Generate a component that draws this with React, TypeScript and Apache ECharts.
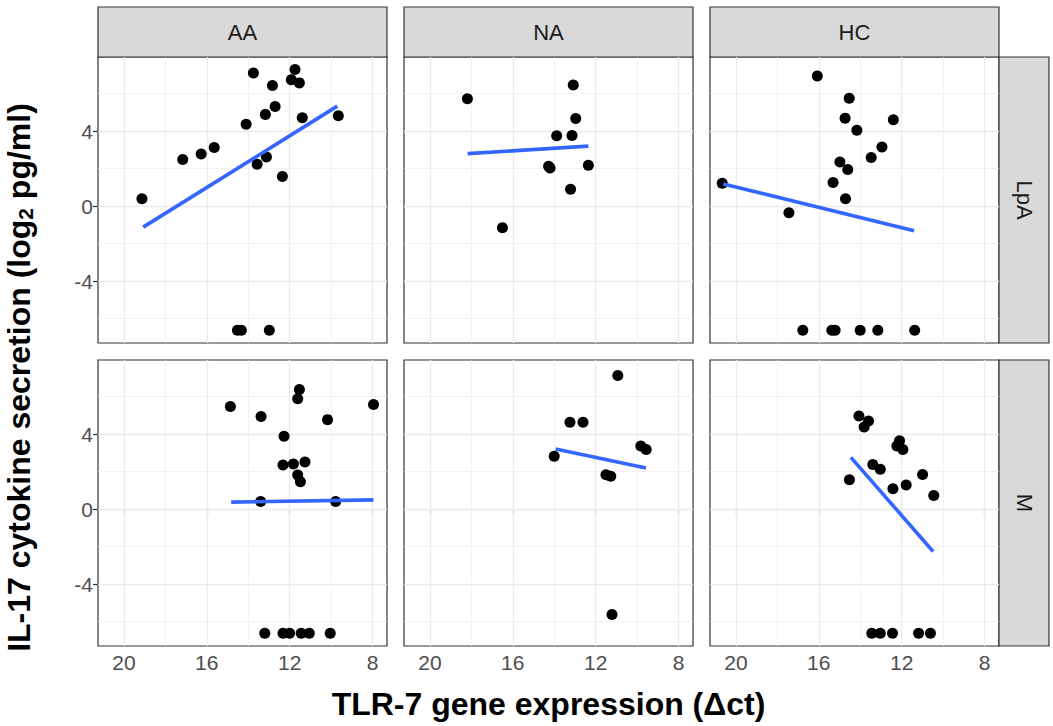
import React, { useEffect, useRef } from "react";
import * as echarts from "echarts";

// ---- facets ----
const columns = ["AA", "NA", "HC"];
const rows = ["LpA", "M"];

// ---- axis ticks ----
const xTicks = [20, 16, 12, 8];
const xMinor = [18, 14, 10];
const yTicks = [-4, 0, 4];
const yMinor = [-6, -2, 2, 6];
const xRange = [7.3, 21.25];
const yRange = [-7.3, 7.95];

// ---- data: TLR-7 (Δct) vs IL-17 (log2 pg/ml) ----
const AA_LpA_x = [13.75, 11.74, 11.92, 11.53, 12.83, 12.7, 13.17, 11.39, 9.65, 14.1, 15.64, 16.27, 17.16, 13.57, 13.12, 12.35, 19.13, 14.52, 14.33, 12.98];
const AA_LpA_y = [7.1, 7.28, 6.74, 6.57, 6.43, 5.31, 4.89, 4.71, 4.82, 4.37, 3.12, 2.78, 2.48, 2.23, 2.62, 1.58, 0.39, -6.62, -6.62, -6.62];
const AA_LpA_fitX = [19.07, 9.7];
const AA_LpA_fitY = [-1.12, 5.33];

const NA_LpA_x = [13.08, 18.19, 12.96, 13.88, 13.14, 14.27, 14.2, 12.35, 13.21, 16.5];
const NA_LpA_y = [6.46, 5.72, 4.67, 3.75, 3.77, 2.12, 2.03, 2.18, 0.9, -1.15];
const NA_LpA_fitX = [18.18, 12.35];
const NA_LpA_fitY = [2.8, 3.2];

const HC_LpA_x = [16.07, 14.53, 14.73, 12.4, 14.16, 12.95, 13.47, 14.98, 14.6, 15.31, 14.71, 20.66, 17.44, 16.77, 15.37, 15.21, 14.0, 13.15, 11.37];
const HC_LpA_y = [6.94, 5.75, 4.69, 4.6, 4.04, 3.15, 2.59, 2.35, 1.95, 1.26, 0.39, 1.22, -0.35, -6.62, -6.62, -6.62, -6.62, -6.62, -6.62];
const HC_LpA_fitX = [20.61, 11.4];
const HC_LpA_fitY = [1.18, -1.31];

const AA_M_x = [11.53, 11.61, 14.86, 7.95, 13.38, 10.17, 12.27, 12.32, 11.82, 11.26, 11.61, 11.48, 13.4, 9.78, 13.2, 12.32, 12.0, 11.44, 11.05, 10.04];
const AA_M_y = [6.38, 5.88, 5.47, 5.58, 4.94, 4.77, 3.88, 2.35, 2.4, 2.51, 1.82, 1.46, 0.4, 0.4, -6.62, -6.62, -6.62, -6.62, -6.62, -6.62];
const AA_M_fitX = [14.82, 7.95];
const AA_M_fitY = [0.37, 0.49];

const NA_M_x = [10.93, 13.24, 12.61, 9.82, 9.56, 14.0, 11.5, 11.27, 11.21];
const NA_M_y = [7.12, 4.63, 4.63, 3.37, 3.18, 2.82, 1.83, 1.75, -5.62];
const NA_M_fitX = [13.93, 9.57];
const NA_M_fitY = [3.2, 2.19];

const HC_M_x = [14.06, 13.6, 13.81, 12.1, 12.23, 11.94, 13.39, 13.03, 14.52, 10.99, 12.42, 11.78, 10.45, 13.44, 13.03, 12.44, 11.18, 10.61];
const HC_M_y = [4.96, 4.7, 4.38, 3.64, 3.37, 3.18, 2.38, 2.12, 1.57, 1.85, 1.09, 1.29, 0.72, -6.62, -6.62, -6.62, -6.62, -6.62];
const HC_M_fitX = [14.45, 10.48];
const HC_M_fitY = [2.76, -2.26];

const panels = [
  [
    { x: AA_LpA_x, y: AA_LpA_y, fx: AA_LpA_fitX, fy: AA_LpA_fitY },
    { x: NA_LpA_x, y: NA_LpA_y, fx: NA_LpA_fitX, fy: NA_LpA_fitY },
    { x: HC_LpA_x, y: HC_LpA_y, fx: HC_LpA_fitX, fy: HC_LpA_fitY },
  ],
  [
    { x: AA_M_x, y: AA_M_y, fx: AA_M_fitX, fy: AA_M_fitY },
    { x: NA_M_x, y: NA_M_y, fx: NA_M_fitX, fy: NA_M_fitY },
    { x: HC_M_x, y: HC_M_y, fx: HC_M_fitX, fy: HC_M_fitY },
  ],
];

const FONT = "'Liberation Sans', Arial, sans-serif";
const colLeft = [98, 404, 710];
const colWidth = 289;
const rowTop = [57, 360];
const rowHeight = 286;
const stripTop = 7;
const stripSize = 50;

export default function App() {
  const ref = useRef<HTMLDivElement>(null);
  useEffect(() => {
    if (!ref.current) return;
    const chart = echarts.init(ref.current, null, { renderer: "svg" });
    const grid: any[] = [];
    const xAxis: any[] = [];
    const yAxis: any[] = [];
    const series: any[] = [];
    const graphic: any[] = [];
    let idx = 0;
    for (let r = 0; r < rows.length; r++) {
      for (let c = 0; c < columns.length; c++) {
        const p = panels[r][c];
        grid.push({
          left: colLeft[c],
          top: rowTop[r],
          width: colWidth,
          height: rowHeight,
          show: true,
          backgroundColor: "#ffffff",
          borderColor: "#333333",
          borderWidth: 1.2,
        });
        xAxis.push({
          gridIndex: idx,
          type: "value",
          inverse: true,
          min: xRange[0],
          max: xRange[1],
          axisLine: { show: false },
          splitLine: { show: false },
          axisTick: {
            show: r === rows.length - 1,
            length: 5,
            customValues: xTicks,
            lineStyle: { color: "#333333", width: 1.2 },
          },
          axisLabel: {
            show: r === rows.length - 1,
            customValues: xTicks,
            color: "#4d4d4d",
            fontSize: 21,
            fontFamily: FONT,
            margin: 6,
          },
        });
        yAxis.push({
          gridIndex: idx,
          type: "value",
          min: yRange[0],
          max: yRange[1],
          axisLine: { show: false },
          splitLine: { show: false },
          axisTick: {
            show: c === 0,
            length: 5,
            customValues: yTicks,
            lineStyle: { color: "#333333", width: 1.2 },
          },
          axisLabel: {
            show: c === 0,
            customValues: yTicks,
            color: "#4d4d4d",
            fontSize: 21,
            fontFamily: FONT,
            margin: 5,
          },
        });
        const gridLines: any[] = [];
        xTicks.forEach((v) => gridLines.push({ xAxis: v, lineStyle: { width: 1.3 } }));
        xMinor.forEach((v) => gridLines.push({ xAxis: v, lineStyle: { width: 0.7 } }));
        yTicks.forEach((v) => gridLines.push({ yAxis: v, lineStyle: { width: 1.3 } }));
        yMinor.forEach((v) => gridLines.push({ yAxis: v, lineStyle: { width: 0.7 } }));
        series.push({
          type: "scatter",
          xAxisIndex: idx,
          yAxisIndex: idx,
          z: 3,
          symbolSize: 11,
          itemStyle: { color: "#000000", opacity: 1 },
          data: p.x.map((v, i) => [v, p.y[i]]),
          markLine: {
            z: 1,
            silent: true,
            symbol: "none",
            label: { show: false },
            lineStyle: { color: "#ebebeb", type: "solid" },
            emphasis: { disabled: true },
            data: gridLines,
          },
        });
        series.push({
          type: "line",
          xAxisIndex: idx,
          yAxisIndex: idx,
          z: 4,
          symbol: "none",
          lineStyle: { color: "#3366ff", width: 3.6 },
          data: p.fx.map((v, i) => [v, p.fy[i]]),
        });
        idx++;
      }
    }
    // top strips
    columns.forEach((name, c) => {
      graphic.push({
        type: "rect",
        shape: { x: colLeft[c], y: stripTop, width: colWidth, height: stripSize },
        style: { fill: "#d9d9d9", stroke: "#333333", lineWidth: 1.2 },
      });
      graphic.push({
        type: "text",
        x: colLeft[c] + colWidth / 2,
        y: stripTop + stripSize / 2,
        style: {
          text: name,
          fontSize: 22,
          fontFamily: FONT,
          fill: "#1a1a1a",
          align: "center",
          verticalAlign: "middle",
        },
      });
    });
    // right strips
    const rightX = colLeft[2] + colWidth;
    rows.forEach((name, r) => {
      graphic.push({
        type: "rect",
        shape: { x: rightX, y: rowTop[r], width: stripSize, height: rowHeight },
        style: { fill: "#d9d9d9", stroke: "#333333", lineWidth: 1.2 },
      });
      graphic.push({
        type: "text",
        x: rightX + stripSize / 2,
        y: rowTop[r] + rowHeight / 2,
        rotation: -Math.PI / 2,
        style: {
          text: name,
          fontSize: 22,
          fontFamily: FONT,
          fill: "#1a1a1a",
          align: "center",
          verticalAlign: "middle",
        },
      });
    });
    // axis titles
    graphic.push({
      type: "text",
      x: (colLeft[0] + colLeft[2] + colWidth) / 2,
      y: 704,
      style: {
        text: "TLR-7 gene expression (\u0394ct)",
        fontSize: 32,
        fontWeight: "bold",
        fontFamily: FONT,
        fill: "#000000",
        align: "center",
        verticalAlign: "middle",
      },
    });
    graphic.push({
      type: "text",
      x: 19,
      y: (rowTop[0] + rowTop[1] + rowHeight) / 2 + 26,
      rotation: Math.PI / 2,
      style: {
        text: "IL-17 cytokine secretion (log{sub|2} pg/ml)",
        fontSize: 32,
        fontWeight: "bold",
        fontFamily: FONT,
        fill: "#000000",
        align: "center",
        verticalAlign: "middle",
        rich: {
          sub: {
            fontSize: 21,
            fontWeight: "bold",
            fontFamily: FONT,
            fill: "#000000",
            verticalAlign: "bottom",
            padding: [13, 0, 0, 0],
          },
        },
      },
    });
    chart.setOption({
      animation: false,
      backgroundColor: "#ffffff",
      grid,
      xAxis,
      yAxis,
      series,
      graphic,
    });
    return () => chart.dispose();
  }, []);
  return (
    <div
      ref={ref}
      style={{ position: "fixed", left: 0, top: 0, width: 1053, height: 726, background: "#fff" }}
    />
  );
}
